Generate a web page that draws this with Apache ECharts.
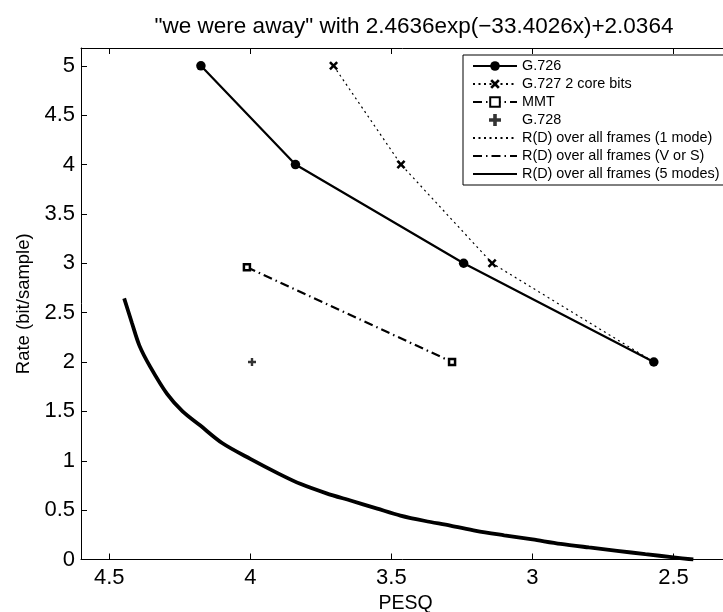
<!DOCTYPE html>
<html>
<head>
<meta charset="utf-8">
<script src="https://cdn.jsdelivr.net/npm/echarts@6/dist/echarts.min.js"></script>
<style>html,body{margin:0;padding:0;background:#fff}#c{width:723px;height:612px}</style>
</head>
<body>
<div id="c"></div>
<script>
// ---- data ----
const titleText = '"we were away" with 2.4636exp(\u221233.4026x)+2.0364';
const xTicks = [2.5, 3, 3.5, 4, 4.5];
const yTicks = [0, 0.5, 1, 1.5, 2, 2.5, 3, 3.5, 4, 4.5, 5];

const g726X = [4.175, 3.84, 3.244, 2.57];
const g726Y = [5, 4, 3, 2];

const g727X = [3.705, 3.466, 3.143, 2.57];
const g727Y = [5, 4, 3, 2];

const mmtX = [4.012, 3.285];
const mmtY = [2.96, 2.0];

const g728X = [3.994];
const g728Y = [2.0];

const rd1X = [];
const rd1Y = [];
const rdvsX = [];
const rdvsY = [];

const rd5X = [4.447, 4.42, 4.393, 4.355, 4.295, 4.24, 4.177, 4.1, 4.0, 3.9, 3.823, 3.73, 3.645, 3.55, 3.468, 3.38, 3.291, 3.2, 3.1, 3.0, 2.9, 2.8, 2.7, 2.6, 2.5, 2.43];
const rd5Y = [2.645, 2.40, 2.166, 1.953, 1.677, 1.50, 1.356, 1.18, 1.019, 0.87, 0.766, 0.67, 0.597, 0.515, 0.445, 0.39, 0.344, 0.29, 0.245, 0.203, 0.158, 0.122, 0.088, 0.054, 0.022, 0.0];

// ---- helpers ----
const pairs = (xs, ys) => xs.map((x, i) => [x, ys[i]]);
const FONT = 'Liberation Sans, Arial, Helvetica, sans-serif';
const crossPath = 'path://M2,0 L5,3 L8,0 L10,2 L7,5 L10,8 L8,10 L5,7 L2,10 L0,8 L3,5 L0,2 Z';
const plusPath = 'path://M3.5,0 H6.5 V3.5 H10 V6.5 H6.5 V10 H3.5 V6.5 H0 V3.5 H3.5 Z';

const g727Data = pairs(g727X, g727Y).map((p, i) => i === g727X.length - 1 ? {value: p, symbol: 'none'} : p);

const chart = echarts.init(document.getElementById('c'), null, {renderer: 'canvas'});
chart.setOption({
  animation: false,
  backgroundColor: '#fff',
  title: {
    text: titleText,
    left: 409, top: 10, textAlign: 'center',
    textStyle: {fontFamily: FONT, fontSize: 22.5, fontWeight: 'normal', color: '#000'}
  },
  grid: {left: 81, top: 48, width: 649, height: 511.5, show: false, containLabel: false, outerBoundsMode: 'none'},
  legend: {
    orient: 'vertical', left: 463, top: 55,
    width: 255,
    padding: [4, 6, 4, 9],
    itemWidth: 44, itemHeight: 12, itemGap: 4,
    borderColor: '#000', borderWidth: 1, backgroundColor: '#fff',
    textStyle: {fontFamily: FONT, fontSize: 14.4, color: '#000'},
    data: ['G.726', 'G.727 2 core bits', 'MMT', 'G.728',
      'R(D) over all frames (1 mode)', 'R(D) over all frames (V or S)', 'R(D) over all frames (5 modes)']
  },
  xAxis: [{
    type: 'value', inverse: true, min: 2.3, max: 4.6,
    name: 'PESQ', nameLocation: 'middle', nameGap: 29,
    nameTextStyle: {fontFamily: FONT, fontSize: 19.5, color: '#000'},
    axisLine: {onZero: false, lineStyle: {color: '#000', width: 1}},
    axisTick: {inside: true, length: 6, customValues: xTicks, lineStyle: {color: '#000'}},
    axisLabel: {customValues: xTicks, margin: 7, fontFamily: FONT, fontSize: 22, color: '#000'},
    splitLine: {show: false}
  }, {
    type: 'value', inverse: true, min: 2.3, max: 4.6, position: 'top',
    axisLine: {onZero: false, lineStyle: {color: '#000', width: 1}},
    axisTick: {inside: true, length: 6, customValues: xTicks, lineStyle: {color: '#000'}},
    axisLabel: {show: false},
    splitLine: {show: false}
  }],
  yAxis: [{
    type: 'value', min: 0, max: 5.18,
    name: 'Rate (bit/sample)', nameLocation: 'middle', nameGap: 47, nameRotate: 90,
    nameTextStyle: {fontFamily: FONT, fontSize: 18.5, color: '#000'},
    axisLine: {show: true, onZero: false, lineStyle: {color: '#000', width: 1}},
    axisTick: {show: true, inside: true, length: 6, customValues: yTicks, lineStyle: {color: '#000'}},
    axisLabel: {customValues: yTicks, margin: 6, fontFamily: FONT, fontSize: 22, color: '#000'},
    splitLine: {show: false}
  }],
  series: [
    {
      name: 'G.726', type: 'line', data: pairs(g726X, g726Y), z: 5,
      symbol: 'circle', symbolSize: 9.5,
      lineStyle: {color: '#000', width: 2.2},
      itemStyle: {color: '#000'}
    },
    {
      name: 'G.727 2 core bits', type: 'line', data: g727Data, z: 4,
      symbol: crossPath, symbolSize: 9,
      lineStyle: {color: '#000', width: 1.2, type: [2, 3.5]},
      itemStyle: {color: '#000'}
    },
    {
      name: 'MMT', type: 'line', data: pairs(mmtX, mmtY), z: 4,
      symbol: 'rect', symbolSize: 6,
      lineStyle: {color: '#000', width: 2.2, type: [9, 4, 1.5, 4]},
      itemStyle: {color: '#fff', borderColor: '#000', borderWidth: 2.5}
    },
    {
      name: 'G.728', type: 'scatter', data: pairs(g728X, g728Y), z: 4,
      symbol: plusPath, symbolSize: 8,
      itemStyle: {color: '#000'}
    },
    {
      name: 'R(D) over all frames (1 mode)', type: 'line', data: pairs(rd1X, rd1Y),
      symbol: 'none', itemStyle: {color: '#000', opacity: 0},
      lineStyle: {color: '#000', width: 1.2, type: [2, 3.5]}
    },
    {
      name: 'R(D) over all frames (V or S)', type: 'line', data: pairs(rdvsX, rdvsY),
      symbol: 'none', itemStyle: {color: '#000', opacity: 0},
      lineStyle: {color: '#000', width: 2.2, type: [9, 4, 1.5, 4]}
    },
    {
      name: 'R(D) over all frames (5 modes)', type: 'line', data: pairs(rd5X, rd5Y),
      symbol: 'none', smooth: 0.3,
      itemStyle: {color: '#000', opacity: 0},
      lineStyle: {color: '#000', width: 3.8}
    }
  ]
});
</script>
</body>
</html>
